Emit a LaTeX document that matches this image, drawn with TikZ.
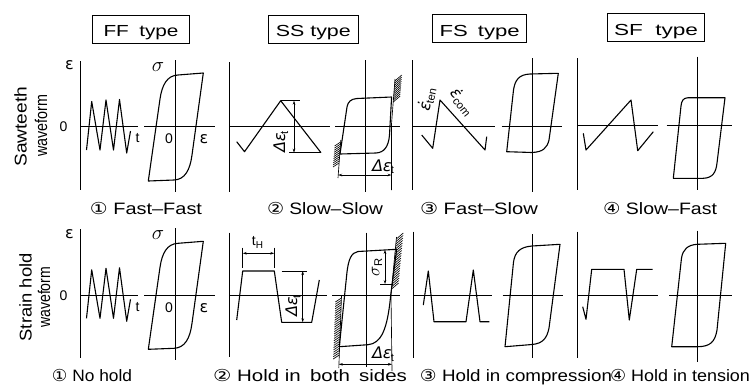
\documentclass[tikz,border=0pt]{standalone}
\usepackage{fontspec}
\setmainfont{Liberation Sans}
\newfontfamily\capfont{Liberation Sans}
\newfontfamily\symfont{DejaVu Sans}
\newfontfamily\grkit[FakeSlant=0.2]{DejaVu Sans}
\usetikzlibrary{arrows.meta,calc}
\newcommand{\fitw}[2]{\resizebox{#1}{\height}{#2}}
\tikzset{
  ax/.style={line width=1pt},
  crv/.style={line width=1.1pt, line join=round},
  thinln/.style={line width=0.65pt},
  dimarr/.style={line width=0.65pt, {Stealth[length=4pt,width=2.6pt]}-{Stealth[length=4pt,width=2.6pt]}},
  typebox/.style={draw, line width=0.8pt, minimum width=#1, minimum height=28pt, inner sep=0pt,
     text height=15pt, text depth=0pt, font=\capfont\fontsize{16}{16}\selectfont},
  captxt/.style={font=\capfont\fontsize{16.5}{16.5}\selectfont, inner sep=0pt, anchor=base},
  rowlab/.style={font=\fontsize{17}{17}\selectfont, inner sep=0pt, anchor=base, rotate=90},
  lab/.style={font=\fontsize{14}{14}\selectfont, inner sep=0pt},
  epslab/.style={font=\symfont\fontsize{16}{16}\selectfont, inner sep=0pt},
  siglab/.style={font=\fontsize{20}{20}\selectfont, inner sep=0pt},
  mlab/.style={font=\fontsize{16}{16}\selectfont, inner sep=0pt},
  ffpanel/.pic={
    \draw[ax] (80.7,61) -- (80.7,190);
    \draw[ax] (80.7,126.7) -- (138,126.7);
    \draw[crv] (86.5,150) -- (91.7,101.5) -- (100,150) -- (106,100) -- (113.5,150) -- (119.5,99.5) -- (126.7,153) -- (130.5,131);
    \node[epslab] (-e) at (69.5,65.5) {ε};
    \node[lab] (-z) at (63.5,127) {0};
    \node[lab] (-t) at (137.5,138.5) {t};
    \draw[ax] (175.7,60) -- (175.7,192);
    \draw[ax] (144,126.7) -- (215,126.7);
    \node[siglab] (-s) at (158,67) {$\sigma$};
    \node[lab] (-z2) at (169,139) {0};
    \node[epslab] (-e2) at (204,139.5) {ε};
    \draw[crv] (203.3,73) -- (178,75) .. controls (167,75.5) and (162,85) .. (160,99) -- (148.3,181) -- (174,180) .. controls (185,179.5) and (190,170) .. (192,155) -- cycle;
  }
}
\newcommand{\cnum}[1]{{\symfont #1}}
\newcommand{\deps}{{\grkit Δε}\textsubscript{t}}
\begin{document}
\begin{tikzpicture}[x=1pt,y=-1pt]
\useasboundingbox (0,0) rectangle (751,389);

% ---- type boxes
\node[typebox=96.6pt] (bFF) at (141,29) {\fitw{75pt}{FF\hspace{0.5em}type}};
\node[typebox=90pt] (bSS) at (313.3,29) {\fitw{75pt}{SS type}};
\node[typebox=94pt] (bFS) at (479.7,28.5) {\fitw{80pt}{FS\hspace{0.45em}type}};
\node[typebox=97.7pt] (bSF) at (656,27.5) {\fitw{84pt}{SF\hspace{0.55em}type}};

% ---- row labels
\node[rowlab] (r1a) at (26.5,126.7) {\fitw{80pt}{Sawteeth}};
\node[rowlab] (r1b) at (47,125.8) {\fitw{62pt}{waveform}};
\node[rowlab] (r2a) at (31.5,297.3) {\fitw{88pt}{Strain hold}};
\node[rowlab] (r2b) at (50,297.3) {\fitw{61pt}{waveform}};

% ---- captions
\node[captxt] (c1) at (146,214.5) {\fitw{112pt}{\cnum{①} Fast–Fast}};
\node[captxt] (c2) at (325,214.5) {\fitw{116pt}{\cnum{②} Slow–Slow}};
\node[captxt] (c3) at (479,214.5) {\fitw{118pt}{\cnum{③} Fast–Slow}};
\node[captxt] (c4) at (660,214.5) {\fitw{114pt}{\cnum{④} Slow–Fast}};
\node[captxt] (d1) at (92,381.5) {\fitw{80pt}{\cnum{①} No hold}};
\node[captxt] (d2) at (310,381.5) {\fitw{194pt}{\cnum{②} Hold in\hspace{0.45em}both\hspace{0.45em}sides}};
\node[captxt] (d3) at (516,381.5) {\fitw{192pt}{\cnum{③} Hold in compression}};
\node[captxt] (d4) at (680,381.5) {\fitw{140pt}{\cnum{④} Hold in tension}};

% ---- FF panels
\pic (ffA) at (0,0) {ffpanel};
\pic (ffB) at (0,168.3) {ffpanel};

% ---- SS row 1
\draw[ax] (229,62) -- (229,192);
\draw[ax] (229,126.7) -- (330,126.7);
\draw[crv] (236.7,141.7) -- (244.5,151.7) -- (280.7,100.7) -- (321,152.7);
\draw[thinln] (280.7,100.7) -- (300,100.7);
\draw[thinln] (289,152.7) -- (321,152.7);
\draw[dimarr] (294,100.7) -- (294,152.7);
\node[mlab, rotate=90] (ss1d) at (281,142) {\deps};
\draw[ax] (365.7,60) -- (365.7,192);
\draw[ax] (335,126.7) -- (400,126.7);
\draw[crv] (391.6,97) -- (357,98.5) .. controls (351,99) and (348,101.5) .. (347,107) -- (340,154) -- (376,153) .. controls (384,152.5) and (388.5,147) .. (389.5,135) -- cycle;
\draw[thinln] (340.8,140) -- (338,178);
\coordinate (h1a) at (340.6,142); \coordinate (h1b) at (339,163);
\foreach \t in {0,0.1,...,1.01} \draw[thinln] ($(h1a)!\t!(h1b)$) -- ++(-6,4);
\draw[thinln] (395,79) -- (391.5,124) -- (391.5,190);
\coordinate (h2a) at (394.8,81); \coordinate (h2b) at (393.2,102);
\foreach \t in {0,0.1,...,1.01} \draw[thinln] ($(h2a)!\t!(h2b)$) -- ++(7,-6);
\draw[dimarr] (338.2,175) -- (391.5,175);
\node[mlab, anchor=base west] (ss1e) at (371,171) {\deps};

% ---- SS row 2
\draw[ax] (229.3,232.7) -- (229.3,357);
\draw[ax] (229.3,295) -- (327,295);
\draw[crv] (236.7,320) -- (242.7,271) -- (274.3,271) -- (281.7,322.3) -- (311.7,322.3) -- (319.3,280);
\draw[thinln] (242.7,247.5) -- (242.7,268);
\draw[thinln] (274.3,247.5) -- (274.3,268);
\draw[dimarr] (242.7,253.3) -- (274.3,253.3);
\node[lab, anchor=base] (tH) at (257.5,245.5) {t\raisebox{-2.5pt}{\fontsize{10}{10}\selectfont H}};
\draw[thinln] (281.7,271) -- (307,271);
\draw[dimarr] (302.7,271) -- (302.7,322.3);
\node[mlab, rotate=90] (ss2d) at (293.5,306) {\deps};
\draw[ax] (366.7,232.7) -- (366.7,366.7);
\draw[ax] (332,295) -- (400,295);
\draw[crv] (396.7,249.3) -- (358,251.5) .. controls (351,252.5) and (348.5,260) .. (347,272) -- (339.3,346.7) -- (368,344.7) .. controls (381,343.5) and (387.5,330) .. (390.7,295) -- cycle;
\draw[thinln] (341.5,296) -- (338.8,368);
\coordinate (h3a) at (341.4,298); \coordinate (h3b) at (339.2,355);
\foreach \t in {0,0.04,...,1.01} \draw[thinln] ($(h3a)!\t!(h3b)$) -- ++(-6,4);
\draw[thinln] (396.5,237) -- (391,295) -- (392,371);
\coordinate (h4a) at (396.3,239); \coordinate (h4b) at (391.6,289);
\foreach \t in {0,0.05,...,1.01} \draw[thinln] ($(h4a)!\t!(h4b)$) -- ++(7,-6);
\draw[dimarr] (385,249.8) -- (385,284);
\draw[thinln] (380,284) -- (392.5,284);
\node[mlab, rotate=90] (sR) at (377,267) {{\fontsize{19}{19}\selectfont$\sigma$}\textsubscript{R}};
\draw[dimarr] (338.8,364.3) -- (392,364.3);
\node[mlab, anchor=base west] (ss2e) at (371,358.5) {\deps};

% ---- FS row 1
\draw[ax] (412.7,60) -- (412.7,190);
\draw[ax] (412.7,126.7) -- (495,126.7);
\draw[crv] (421.7,135) -- (432.7,148.3) -- (440,100) -- (485,150) -- (486.7,136.7);
\node[mlab, rotate=78] (eten) at (427,99) {{\grkit \.{ε}}\textsubscript{ten}};
\node[mlab, rotate=-52] (ecom) at (462,102) {{\grkit \.{ε}}\textsubscript{com}};
\draw[ax] (532.3,58) -- (532.3,191.7);
\draw[ax] (501.7,126.7) -- (561.7,126.7);
\draw[crv] (558.3,73.3) -- (530,74) .. controls (519,74.5) and (515,80) .. (513.5,90) -- (506.7,151.7) -- (532,152.5) .. controls (543,152) and (547,148) .. (549,140) -- cycle;

% ---- FS row 2
\draw[ax] (413.3,231.7) -- (413.3,358.3);
\draw[ax] (413.3,295) -- (491.7,295);
\draw[crv] (423.3,305) -- (428.3,271) -- (434,321.7) -- (466,321.7) -- (473.3,270) -- (480,321.7) -- (489.3,321.7);
\draw[ax] (532.3,234) -- (532.3,358.3);
\draw[ax] (502.7,295) -- (563.3,295);
\draw[crv] (560,244.3) -- (532,246) .. controls (520,247) and (515,252) .. (513.5,262) -- (505,346.7) -- (532,344.5) .. controls (543,343.5) and (547,338) .. (549,328) -- cycle;

% ---- SF row 1
\draw[ax] (577.3,58) -- (577.3,190);
\draw[ax] (577.3,125) -- (658.3,125);
\draw[crv] (583.3,133.3) -- (586,150) -- (631,100) -- (637.7,150.7) -- (653.3,131.7);
\draw[ax] (697.7,56.7) -- (697.7,190);
\draw[ax] (666.7,125) -- (731.7,125);
\draw[crv] (725,97.7) -- (688,97.7) .. controls (683,98) and (681.5,101) .. (681,106) -- (673.3,178.3) -- (703,178.3) .. controls (713,178) and (716,172) .. (717,163) -- cycle;

% ---- SF row 2
\draw[ax] (577.3,231.7) -- (577.3,358.3);
\draw[ax] (577.3,295) -- (658.3,295);
\draw[crv] (582.7,306.7) -- (586,319.3) -- (591.7,269.3) -- (624,269.3) -- (629.3,320) -- (636.7,269.3) -- (652.7,269.3);
\draw[ax] (697.7,230.7) -- (697.7,361.7);
\draw[ax] (669.3,295) -- (731.7,295);
\draw[crv] (725.7,243.3) -- (697,244.3) .. controls (688,245) and (683,249) .. (681.5,258) -- (671.7,346.7) -- (698,346.7) .. controls (710,346.5) and (715,342) .. (717,330) -- cycle;
\end{tikzpicture}
\end{document}
